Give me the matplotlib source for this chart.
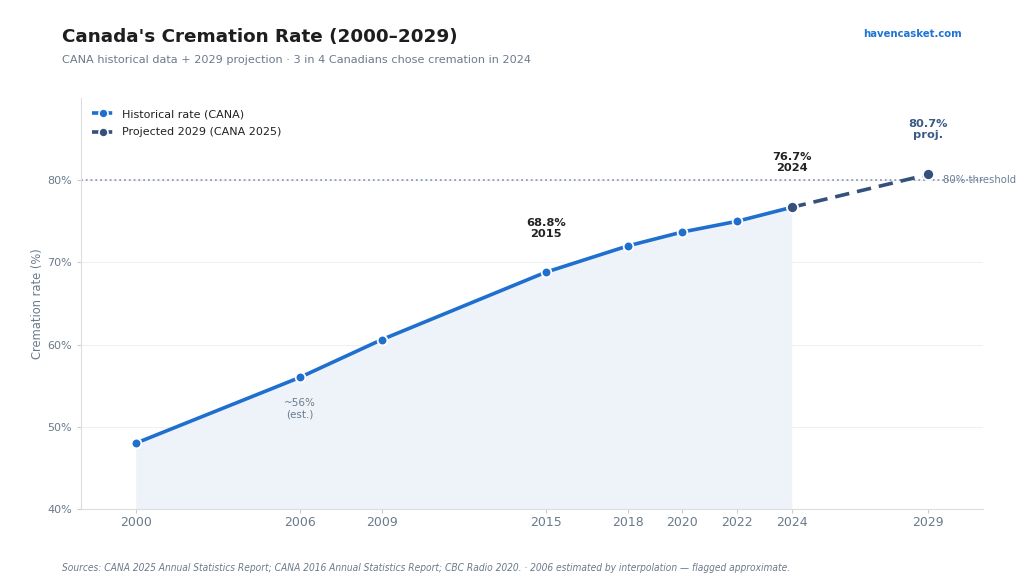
import matplotlib.pyplot as plt
from matplotlib.lines import Line2D

# data
hist_years = [2000, 2006, 2009, 2015, 2018, 2020, 2022, 2024]
hist_rate = [48.0, 56.0, 60.6, 68.8, 72.0, 73.7, 75.0, 76.7]
proj_years = [2024, 2029]
proj_rate = [76.7, 80.7]
tick_years = [2000, 2006, 2009, 2015, 2018, 2020, 2022, 2024, 2029]
threshold = 80

blue = '#1f6fcf'
navy = '#34507c'
grey = '#6b7a8c'

fig = plt.figure(figsize=(10.24, 5.85), dpi=100)
ax = fig.add_axes([81/1024, 1 - 509/585, (983-81)/1024, (509-98)/585])

ax.fill_between(hist_years, hist_rate, 40, color='#eef3fa', lw=0, zorder=1)
ax.axhline(threshold, color='#8d9bb3', ls=':', lw=1.3, zorder=2)
ax.plot(hist_years, hist_rate, color=blue, lw=2.6, marker='o', ms=7,
        mfc=blue, mec='white', mew=1.3, zorder=4)
ax.plot(proj_years, proj_rate, color=navy, lw=2.6, ls=(0, (4, 2.2)), marker='o', ms=8,
        mfc=navy, mec='white', mew=1.3, zorder=5)

ax.text(2015, 74.1, '68.8%\n2015', ha='center', va='center', fontsize=8.2, fontweight='bold',
        color='#222222', linespacing=1.1)
ax.text(2024, 82.2, '76.7%\n2024', ha='center', va='center', fontsize=8.2, fontweight='bold',
        color='#222222', linespacing=1.1)
ax.text(2029, 86.2, '80.7%\nproj.', ha='center', va='center', fontsize=8.2, fontweight='bold',
        color='#3d5a85', linespacing=1.1)
ax.text(2006, 52.2, '~56%\n(est.)', ha='center', va='center', fontsize=7.5, color=grey,
        linespacing=1.1)
ax.text(2029.55, 80, '80% threshold', ha='left', va='center', fontsize=7.3, color='#6b7f99',
        clip_on=False)

ax.set_xlim(1998, 2031)
ax.set_ylim(40, 90)
ax.set_xticks(tick_years)
ax.set_yticks([40, 50, 60, 70, 80])
ax.set_yticklabels([f'{v}%' for v in [40, 50, 60, 70, 80]])
ax.tick_params(colors=grey, labelsize=9, length=3, color='#cccccc')
ax.tick_params(axis='x', pad=2)
ax.tick_params(axis='y', labelsize=8)
ax.set_ylabel('Cremation rate (%)', color=grey, fontsize=8.3, labelpad=2)
ax.grid(axis='y', color='#f0f0f0', lw=0.8)
ax.set_axisbelow(True)
for s in ['top', 'right']:
    ax.spines[s].set_visible(False)
for s in ['left', 'bottom']:
    ax.spines[s].set_color('#dddddd')

# legend proxies so both handles show a segment each side of the marker
handles = [
    Line2D([], [], color=blue, lw=2.6, ls=(0, (2.2, 1.2)), marker='o', ms=6.5,
           mfc=blue, mec='white', mew=1.2),
    Line2D([], [], color=navy, lw=2.6, ls=(0, (2.2, 1.2)), marker='o', ms=6.5,
           mfc=navy, mec='white', mew=1.2),
]
leg = ax.legend(handles, ['Historical rate (CANA)', 'Projected 2029 (CANA 2025)'],
                loc='upper left', frameon=False, fontsize=8, handlelength=2.0,
                borderaxespad=0.6, labelspacing=0.75, handletextpad=0.7)
for t in leg.get_texts():
    t.set_color('#222222')

fig.text(62/1024, 1 - 37/585, "Canada's Cremation Rate (2000\u20132029)", fontsize=13.2,
         fontweight='bold', color='#1e1e1e', va='center')
fig.text(62/1024, 1 - 60/585, 'CANA historical data + 2029 projection \u00b7 3 in 4 Canadians chose cremation in 2024',
         fontsize=8.1, color=grey, va='center')
fig.text(962/1024, 1 - 34/585, 'havencasket.com', fontsize=7.3, fontweight='bold',
         color='#1f73d6', ha='right', va='center')
fig.text(62/1024, 1 - 568/585,
         'Sources: CANA 2025 Annual Statistics Report; CANA 2016 Annual Statistics Report; CBC Radio 2020. \u00b7 '
         '2006 estimated by interpolation \u2014 flagged approximate.',
         fontsize=7.3, style='italic', fontstretch='condensed', color=grey, va='center')

fig.savefig('out.png', dpi=100, facecolor='white')
